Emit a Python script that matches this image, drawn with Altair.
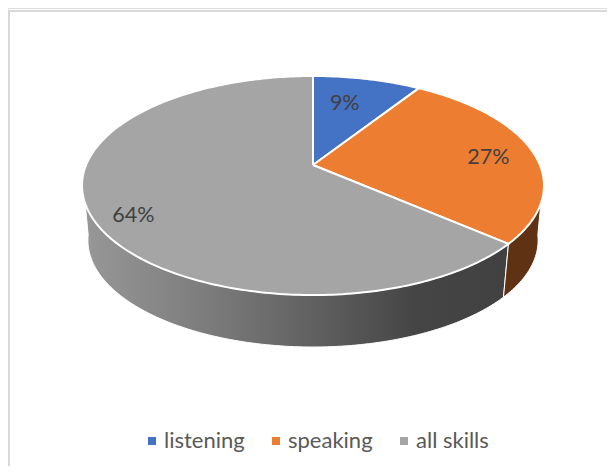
import math
import altair as alt
import pandas as pd

skills = ["listening", "speaking", "all skills"]
shares = [9.09, 27.27, 63.64]
share_labels = ["9%", "27%", "64%"]
colors = ["#4472C4", "#ED7D31", "#A5A5A5"]

# layout of the tilted disc, in page pixels
CX, CY, A, B, K = 313, 165, 226.9, 105.7, 0.1872
SHRINK, VANISH_Y = 0.9745, 2333
label_r = [0.68, 0.79, 0.845]
label_nudge = [-3, 2, -6]


def top(deg):
    t = math.radians(deg)
    u, v = math.sin(t), math.cos(t)
    d = 1 + K * v
    return CX + A * u / d, CY - B * v / d


def low(deg):
    x, y = top(deg)
    return CX + SHRINK * (x - CX), VANISH_Y - SHRINK * (VANISH_Y - y)


def span(a, b, step=1.0):
    n = max(2, int(abs(b - a) / step))
    return [a + (b - a) * i / n for i in range(n + 1)]


total = sum(shares)
starts = [sum(shares[:i]) * 360 / total for i in range(len(shares))]
ends = [sum(shares[:i + 1]) * 360 / total for i in range(len(shares))]

rows = []
for s, a, b in zip(skills, starts, ends):
    pts = [(CX, CY)] + [top(d) for d in span(a, b)] + [(CX, CY)]
    for i, (x, y) in enumerate(pts):
        rows.append(dict(skill=s, x=x, y=y, i=i))
slices = pd.DataFrame(rows)


def wall(a, b, a2, b2):
    pts = [top(d) for d in span(a, b)] + [low(d) for d in span(b2, a2)]
    pts.append(pts[0])
    return pd.DataFrame([dict(x=x, y=y, i=i) for i, (x, y) in enumerate(pts)])


grey_wall = wall(ends[1], 250, ends[1], 262)
orange_wall = wall(110, ends[1], 98, ends[1])

labs = []
for i, t in enumerate(share_labels):
    m = (starts[i] + ends[i]) / 2 + label_nudge[i]
    r = math.radians(m)
    u, v = label_r[i] * math.sin(r), label_r[i] * math.cos(r)
    d = 1 + K * v
    labs.append(dict(t=t, x=CX + A * u / d, y=CY - B * v / d))
labels = pd.DataFrame(labs)

W, H = 599, 458
xs = alt.Scale(domain=[8, 8 + W], range=[0, W], nice=False, zero=False)
ys = alt.Scale(domain=[8, 8 + H], range=[0, H], nice=False, zero=False)
X = alt.X("x:Q", scale=xs, axis=None)
Y = alt.Y("y:Q", scale=ys, axis=None)

grey_fill = alt.Gradient(
    gradient="linear", x1=0, x2=1, y1=0, y2=0,
    stops=[
        alt.GradientStop(offset=0, color="#979797"),
        alt.GradientStop(offset=0.3, color="#7b7b7b"),
        alt.GradientStop(offset=0.55, color="#5f5f5f"),
        alt.GradientStop(offset=0.78, color="#454545"),
        alt.GradientStop(offset=1, color="#414141"),
    ],
)

w1 = alt.Chart(grey_wall).mark_line(fill=grey_fill, stroke="white", strokeWidth=1, strokeJoin="round").encode(X, Y, order="i:Q")
w2 = alt.Chart(orange_wall).mark_line(fill="#5f3214", stroke="white", strokeWidth=1, strokeJoin="round").encode(X, Y, order="i:Q")

pie = alt.Chart(slices).mark_line(stroke="white", strokeWidth=2, strokeJoin="round").encode(
    X, Y, order="i:Q",
    fill=alt.Fill(
        "skill:N",
        scale=alt.Scale(domain=skills, range=colors),
        legend=alt.Legend(
            title=None, orient="none", direction="horizontal",
            legendX=133, legendY=422,
            symbolType="square", symbolSize=64, symbolStrokeWidth=0,
            labelFont="Lato", labelFontSize=22, labelColor="#595959",
            labelOffset=1, columnPadding=20, symbolOpacity=1,
        ),
    ),
)

txt = alt.Chart(labels).mark_text(font="Lato", fontSize=21.5, color="#404040", dy=1.5).encode(X, Y, text="t:N")

top_line = alt.Chart(pd.DataFrame({"x": [8], "x2": [607], "y": [11]})).mark_rule(color="#d9d9d9", strokeWidth=2).encode(X, x2="x2:Q", y=Y)
left_line = alt.Chart(pd.DataFrame({"x": [9], "y": [10], "y2": [466]})).mark_rule(color="#d9d9d9", strokeWidth=2).encode(X, y=Y, y2="y2:Q")

chart = (
    alt.layer(top_line, left_line, w1, w2, pie, txt)
    .properties(width=W, height=H, padding=0, autosize=alt.AutoSizeParams(type="none"))
    .configure_view(stroke=None)
    .configure(background="white")
)
chart.save("out.html", embed_options={"renderer": "svg", "actions": False})
